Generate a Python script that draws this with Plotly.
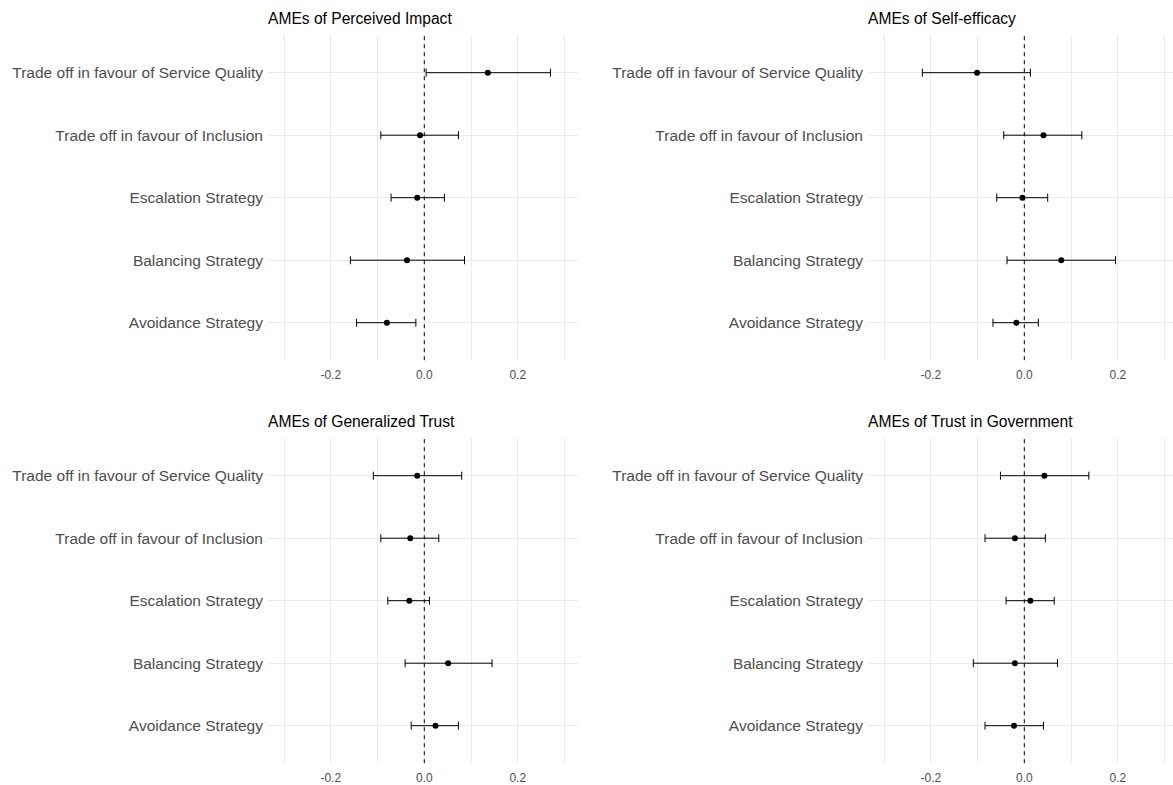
import plotly.graph_objects as go

W, H = 1173, 785

categories = [
    "Trade off in favour of Service Quality",
    "Trade off in favour of Inclusion",
    "Escalation Strategy",
    "Balancing Strategy",
    "Avoidance Strategy",
]

titles = [
    "AMEs of Perceived Impact",
    "AMEs of Self-efficacy",
    "AMEs of Generalized Trust",
    "AMEs of Trust in Government",
]

# Average marginal effects with lower / upper confidence bounds (order follows categories)
impact_ame = [0.136, -0.009, -0.015, -0.037, -0.080]
impact_lo = [0.004, -0.093, -0.071, -0.158, -0.145]
impact_hi = [0.270, 0.073, 0.043, 0.086, -0.018]

efficacy_ame = [-0.101, 0.041, -0.004, 0.079, -0.017]
efficacy_lo = [-0.218, -0.044, -0.059, -0.037, -0.067]
efficacy_hi = [0.013, 0.123, 0.050, 0.195, 0.030]

gentrust_ame = [-0.015, -0.030, -0.032, 0.051, 0.024]
gentrust_lo = [-0.109, -0.093, -0.078, -0.041, -0.028]
gentrust_hi = [0.080, 0.031, 0.011, 0.145, 0.073]

govtrust_ame = [0.043, -0.020, 0.013, -0.020, -0.022]
govtrust_lo = [-0.051, -0.084, -0.039, -0.109, -0.084]
govtrust_hi = [0.138, 0.045, 0.064, 0.071, 0.041]

panels = [
    (impact_ame, impact_lo, impact_hi),
    (efficacy_ame, efficacy_lo, efficacy_hi),
    (gentrust_ame, gentrust_lo, gentrust_hi),
    (govtrust_ame, govtrust_lo, govtrust_hi),
]

x_major = [-0.2, 0.0, 0.2]
x_labels = ["-0.2", "0.0", "0.2"]
x_minor = [-0.3, -0.1, 0.1, 0.3]

# Panel placement in pixels: (left, right, top, bottom)
boxes = [
    (268, 578, 35.2, 360.2),
    (868, 1173, 35.2, 360.2),
    (268, 578, 438.2, 763.2),
    (868, 1173, 438.2, 763.2),
]
x_ranges = [
    [-0.3343, 0.3288],
    [-0.3343, 0.3180],
    [-0.3343, 0.3288],
    [-0.3343, 0.3180],
]

fig = go.Figure()
grid = "#ebebeb"
tick_col = "#4d4d4d"
font_family = "Liberation Sans, Arial"

for i, ((ame, lo, hi), (l, r, t, b), xr, title) in enumerate(
        zip(panels, boxes, x_ranges, titles)):
    n = i + 1
    xa = "x" if n == 1 else f"x{n}"
    ya = "y" if n == 1 else f"y{n}"
    plus = [h - m for h, m in zip(hi, ame)]
    minus = [m - lo_ for m, lo_ in zip(ame, lo)]
    fig.add_trace(go.Scatter(
        x=ame, y=categories, mode="markers",
        marker=dict(color="black", size=6),
        error_x=dict(type="data", symmetric=False, array=plus, arrayminus=minus,
                     color="black", thickness=1, width=4),
        xaxis=xa, yaxis=ya, showlegend=False,
    ))
    fig.update_layout(**{
        f"xaxis{'' if n == 1 else n}": dict(
            domain=[l / W, r / W], range=xr, anchor=ya,
            tickvals=x_major, ticktext=x_labels,
            showgrid=True, gridcolor=grid, gridwidth=1,
            minor=dict(tickvals=x_minor, showgrid=True, gridcolor=grid, gridwidth=1),
            zeroline=False, showline=False, ticks="", ticklabelstandoff=6,
            tickfont=dict(family=font_family, size=12, color=tick_col),
        ),
        f"yaxis{'' if n == 1 else n}": dict(
            domain=[(H - b) / H, (H - t) / H], anchor=xa,
            type="category", categoryorder="array",
            categoryarray=categories[::-1], range=[-0.6, 4.6],
            showgrid=True, gridcolor=grid, gridwidth=1,
            zeroline=False, showline=False, ticks="", ticklabelstandoff=4,
            tickfont=dict(family=font_family, size=15.5, color=tick_col),
        ),
    })
    fig.add_shape(type="line", xref=xa, yref=f"{ya} domain",
                  x0=0, x1=0, y0=0, y1=1,
                  line=dict(color="black", width=1, dash="4px,4px"), layer="above")
    fig.add_annotation(text=title, xref="paper", yref="paper",
                       x=l / W, y=(H - (t - 17)) / H, xanchor="left", yanchor="middle",
                       xshift=-2, showarrow=False,
                       font=dict(family=font_family, size=15.6, color="black"))

fig.update_layout(
    width=W, height=H,
    margin=dict(l=0, r=0, t=0, b=0),
    paper_bgcolor="white", plot_bgcolor="white",
)

fig.write_html("out.html")
